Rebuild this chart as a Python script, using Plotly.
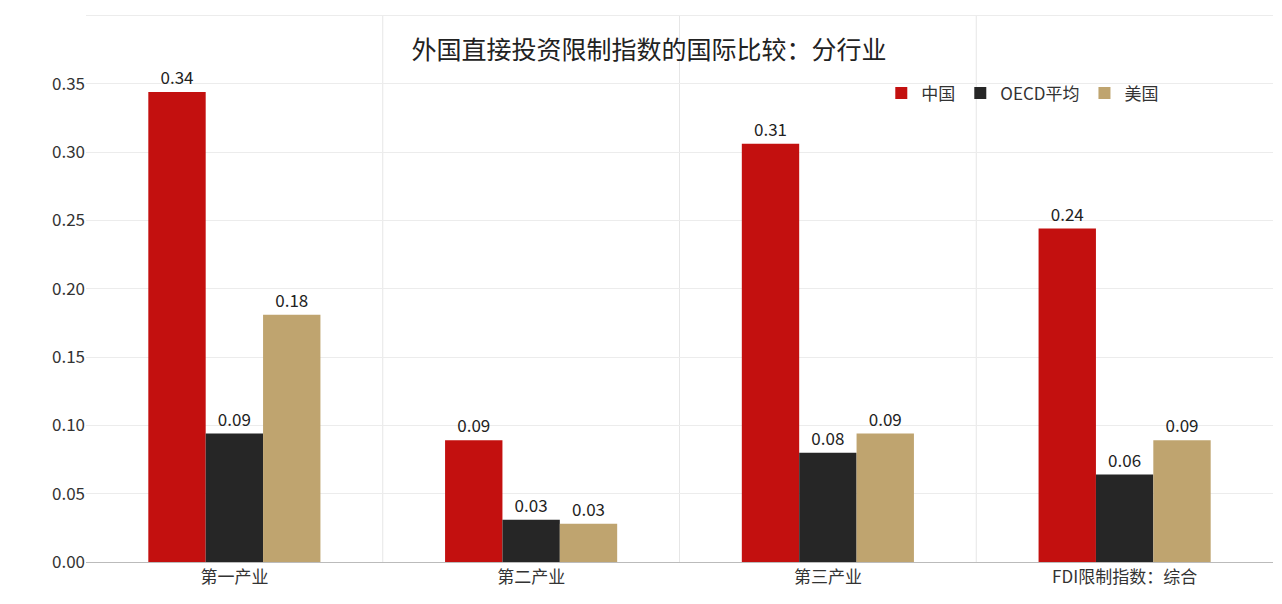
import plotly.graph_objects as go

categories = ["第一产业", "第二产业", "第三产业", "FDI限制指数：综合"]
china = [0.344, 0.089, 0.306, 0.244]
oecd = [0.094, 0.031, 0.080, 0.064]
usa = [0.181, 0.028, 0.094, 0.089]
y_ticks = [0, 0.05, 0.10, 0.15, 0.20, 0.25, 0.30, 0.35, 0.40]

font = "Noto Sans CJK SC"
fig = go.Figure()
for name, vals, color in [("中国", china, "#C3100F"), ("OECD平均", oecd, "#262626"), ("美国", usa, "#BFA46F")]:
    fig.add_trace(go.Bar(
        x=categories, y=vals, name=name, marker_color=color, marker_line_width=0,
        text=[f"{v:.2f}" for v in vals], textposition="outside",
        textfont=dict(size=17, color="#222"), cliponaxis=False,
    ))

for xb in [0.5, 1.5, 2.5]:
    fig.add_shape(type="line", x0=xb, x1=xb, y0=0, y1=0.40, xref="x", yref="y",
                  line=dict(color="#e6e6e6", width=1), layer="below")

fig.update_layout(
    title=dict(text="外国直接投资限制指数的国际比较：分行业", x=0.5, y=0.945,
               font=dict(size=25, color="#222", family=font)),
    width=1282, height=604,
    margin=dict(l=78, r=17, t=6, b=50),
    font=dict(family=font, size=17, color="#333"),
    barmode="group", bargap=0.42, bargroupgap=0,
    plot_bgcolor="white", paper_bgcolor="white",
    legend=dict(orientation="h", x=0.67, y=0.855, xanchor="left", yanchor="middle",
                bgcolor="rgba(0,0,0,0)", font=dict(size=17), itemwidth=30,
                traceorder="normal"),
    xaxis=dict(showline=True, linecolor="#bbb", ticks="", tickfont=dict(size=17)),
    yaxis=dict(range=[0, 0.401], tickvals=y_ticks, tickformat=".2f",
               showgrid=True, gridcolor="#ececec", zeroline=False,
               tickfont=dict(size=17), ticks="", showline=False),
)
fig.write_html("out.html")
